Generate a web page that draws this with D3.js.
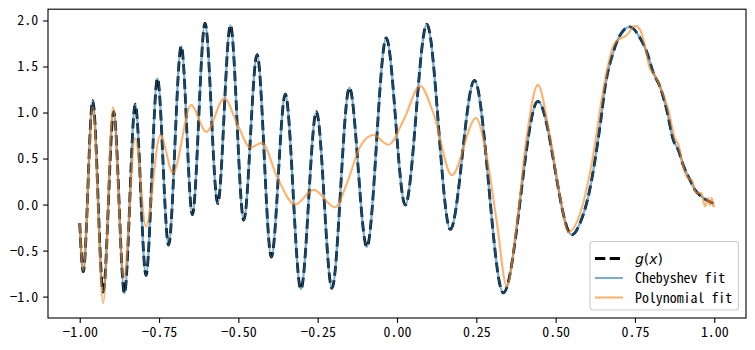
<!DOCTYPE html>
<html>
<head>
<meta charset="utf-8">
<script src="https://cdn.jsdelivr.net/npm/d3@7"></script>
<style>
  body { margin: 0; background: #fff; }
  .tick text, .legend text { font-family: "Noto Sans Mono CJK JP", "Noto Sans CJK JP", "DejaVu Sans Mono", monospace; font-size: 13.9px; fill: #000; }
</style>
</head>
<body>
<div id="chart"></div>
<script>
// values
const xTicks = [-1, -0.75, -0.5, -0.25, 0, 0.25, 0.5, 0.75, 1];
const yTicks = [-1, -0.5, 0, 0.5, 1, 1.5, 2];

// g(x) (the Chebyshev fit sits on top of it)
const gX = [-1.000, -0.989, -0.959, -0.926, -0.893, -0.859, -0.825, -0.791, -0.755, -0.720,
  -0.680, -0.645, -0.605, -0.565, -0.525, -0.483, -0.441, -0.396, -0.352, -0.303,
  -0.254, -0.205, -0.150, -0.095, -0.034, 0.026, 0.094, 0.168, 0.244, 0.335,
  0.444, 0.551, 0.577, 0.603, 0.641, 0.656, 0.682, 0.703, 0.734, 0.766,
  0.787, 0.808, 0.829, 0.850, 0.871, 0.887, 0.902, 0.923, 0.939, 0.960, 0.986, 1.000];
const gY = [-0.20, -0.73, 1.13, -0.95, 1.01, -0.965, 1.09, -0.77, 1.37, -0.44,
  1.72, -0.11, 1.97, 0.01, 1.95, -0.17, 1.63, -0.57, 1.20, -0.92,
  1.01, -0.91, 1.27, -0.46, 1.81, -0.005, 1.96, -0.27, 1.35, -0.96,
  1.12, -0.33, -0.20, 0.09, 0.88, 1.28, 1.66, 1.84, 1.93, 1.81,
  1.66, 1.43, 1.28, 1.03, 0.70, 0.59, 0.43, 0.27, 0.16, 0.085, 0.03, 0.01];

const polyX = [-1.000, -0.989, -0.959, -0.926, -0.895, -0.861, -0.825, -0.791, -0.746, -0.706,
  -0.649, -0.601, -0.544, -0.504, -0.462, -0.425, -0.378, -0.321, -0.263, -0.195,
  -0.158, -0.116, -0.074, -0.027, 0.021, 0.073, 0.115, 0.173, 0.249, 0.283,
  0.315, 0.346, 0.378, 0.409, 0.444, 0.482, 0.514, 0.540, 0.577, 0.614,
  0.650, 0.682, 0.698, 0.724, 0.750, 0.766, 0.781, 0.797, 0.808, 0.822,
  0.855, 0.876, 0.886, 0.908, 0.918, 0.929, 0.945, 0.955, 0.960, 0.971,
  0.981, 0.986, 0.992, 0.997, 1.000];
const polyY = [-0.20, -0.71, 1.06, -1.07, 1.06, -0.80, 0.72, -0.24, 0.755, 0.345,
  1.08, 0.79, 1.155, 0.88, 0.62, 0.67, 0.30, 0.00, 0.16, -0.03,
  0.23, 0.63, 0.755, 0.65, 0.92, 1.29, 0.99, 0.32, 0.94, 0.52,
  -0.20, -0.89, -0.20, 0.74, 1.30, 0.74, 0.085, -0.30, -0.10, 0.45,
  1.24, 1.73, 1.79, 1.84, 1.94, 1.90, 1.73, 1.48, 1.43, 1.34,
  1.03, 0.72, 0.66, 0.34, 0.285, 0.265, 0.12, 0.13, 0.12, -0.02,
  0.07, -0.005, 0.07, -0.02, 0.00];

const width = 755;
const height = 350;
const margin = { top: 9.2, right: 9, bottom: 32, left: 48 };

const svg = d3.select("#chart")
  .append("svg")
  .attr("width", width)
  .attr("height", height);

const x = d3.scaleLinear().domain([-1.1, 1.1]).range([margin.left, width - margin.right]);
const y = d3.scaleLinear().domain([-1.2325, 2.1225]).range([height - margin.bottom, margin.top]);

const line = d3.line()
  .x((d) => x(d[0]))
  .y((d) => y(d[1]))
  .curve(d3.curveMonotoneX);

const gData = gX.map((v, i) => [v, gY[i]]);
const polyData = polyX.map((v, i) => [v, polyY[i]]);

const plot = svg.append("g");

// g(x): black dashed
plot.append("path")
  .attr("d", line(gData))
  .attr("fill", "none")
  .attr("stroke", "#000")
  .attr("stroke-width", 2.8)
  .attr("stroke-dasharray", "10.3,4.4");

// Chebyshev fit
plot.append("path")
  .attr("d", line(gData))
  .attr("fill", "none")
  .attr("stroke", "#1f77b4")
  .attr("stroke-opacity", 0.6)
  .attr("stroke-width", 2.3);

// Polynomial fit
plot.append("path")
  .attr("d", line(polyData))
  .attr("fill", "none")
  .attr("stroke", "#ff7f0e")
  .attr("stroke-opacity", 0.6)
  .attr("stroke-width", 2.1);

// axes
const xAxis = svg.append("g")
  .attr("transform", `translate(0,${height - margin.bottom})`)
  .call(d3.axisBottom(x).tickValues(xTicks).tickFormat(d3.format(".2f"))
    .tickSizeOuter(0).tickSize(4.9).tickPadding(4.5));

const yAxis = svg.append("g")
  .attr("transform", `translate(${margin.left},0)`)
  .call(d3.axisLeft(y).tickValues(yTicks).tickFormat(d3.format(".1f"))
    .tickSizeOuter(0).tickSize(4.9).tickPadding(4.9));

[xAxis, yAxis].forEach((a) => {
  a.select(".domain").remove();
  a.selectAll(".tick line").attr("stroke", "#000").attr("stroke-width", 1.1);
  a.selectAll(".tick text").attr("font-family", null).attr("font-size", null);
});

svg.append("rect")
  .attr("x", margin.left)
  .attr("y", margin.top)
  .attr("width", width - margin.left - margin.right)
  .attr("height", height - margin.top - margin.bottom)
  .attr("fill", "none")
  .attr("stroke", "#000")
  .attr("stroke-width", 1.1);

// legend
const legend = svg.append("g").attr("class", "legend").attr("transform", "translate(590,241.5)");
legend.append("rect")
  .attr("width", 148.5)
  .attr("height", 68.5)
  .attr("rx", 2.8)
  .attr("fill", "#fff")
  .attr("fill-opacity", 0.8)
  .attr("stroke", "#ccc")
  .attr("stroke-width", 1.1);

const items = [
  { label: "g(x)", stroke: "#000", dash: "10.3,4.4", w: 2.8 },
  { label: "Chebyshev fit", stroke: "#79add2", dash: null, w: 2.1 },
  { label: "Polynomial fit", stroke: "#ffb26e", dash: null, w: 2.1 }
];

items.forEach((d, i) => {
  const yy = 17 + i * 19.5;
  legend.append("line")
    .attr("x1", 5).attr("x2", 33)
    .attr("y1", yy).attr("y2", yy)
    .attr("stroke", d.stroke)
    .attr("stroke-width", d.w)
    .attr("stroke-dasharray", d.dash);
  const t = legend.append("text")
    .attr("x", 45)
    .attr("y", yy)
    .attr("dy", "0.36em");
  if (i === 0) {
    t.style("font-family", "'DejaVu Sans', sans-serif");
    t.append("tspan").attr("font-style", "italic").text("g");
    t.append("tspan").text("(");
    t.append("tspan").attr("font-style", "italic").text("x");
    t.append("tspan").text(")");
  } else {
    t.text(d.label);
  }
});
</script>
</body>
</html>
